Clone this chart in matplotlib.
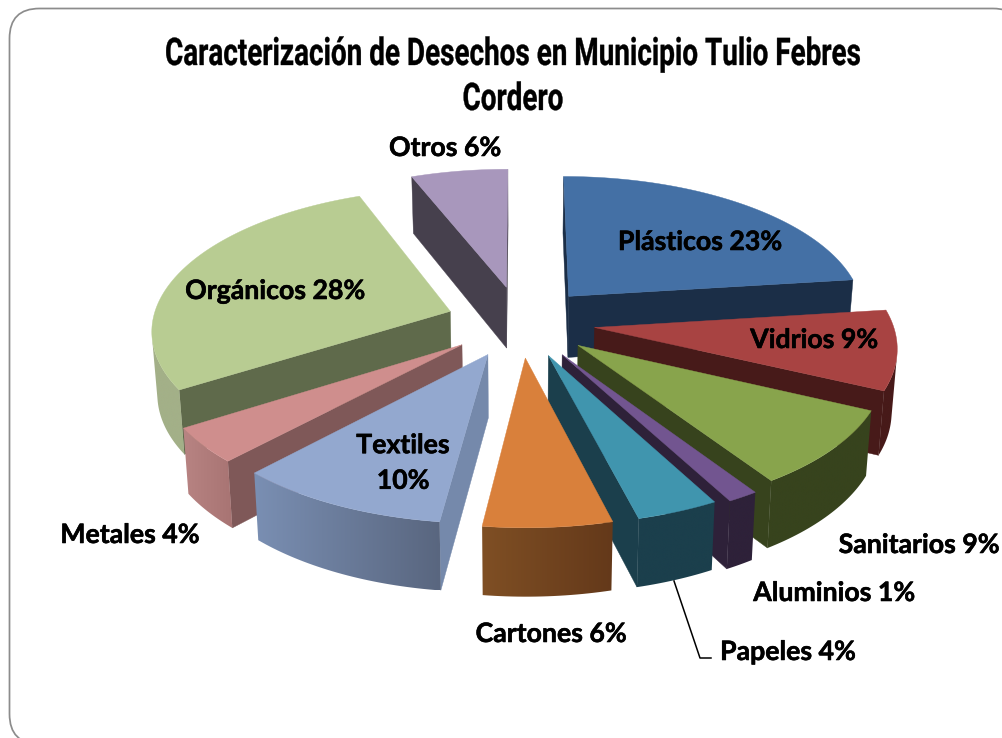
import numpy as np
import matplotlib
matplotlib.use("Agg")
import matplotlib.pyplot as plt
from matplotlib.colors import to_rgb
from matplotlib.patches import Polygon, FancyBboxPatch
from matplotlib.patheffects import AbstractPathEffect, withStroke
from matplotlib.transforms import Affine2D

# ---- data ----
categories = ["Plásticos", "Vidrios", "Sanitarios", "Aluminios", "Papeles",
              "Cartones", "Textiles", "Metales", "Orgánicos", "Otros"]
values = [23, 9, 8.7, 1.45, 3.85, 6, 10, 4, 28, 6]
label_texts = ["Plásticos 23%", "Vidrios 9%", "Sanitarios 9%", "Aluminios 1%", "Papeles 4%",
               "Cartones 6%", "Textiles\n10%", "Metales 4%", "Orgánicos 28%", "Otros 6%"]
title_lines = ["Caracterización de Desechos en Municipio Tulio Febres", "Cordero"]

# ---- styles ----
top_colors = ["#4470A5", "#A84342", "#88A44C", "#725590", "#4095AE",
              "#D9803B", "#93A8CF", "#CF8E8D", "#B8CC92", "#A897BC"]
wall_colors = ["#1B2E47", "#471A19", "#37431D", "#2E2139", "#1B3F4C",
               "#7F4F24", "#7589AB", "#7F5858", "#5F6A4B", "#46404D"]
rim_left = ["#1B2E47", "#471A19", "#37431D", "#2E2139", "#1B3F4C",
            "#7F4F24", "#7A8FB3", "#B88483", "#A3B088", "#46404D"]
rim_right = ["#1B2E47", "#471A19", "#37431D", "#2E2139", "#1B3F4C",
             "#64391A", "#59667F", "#A87473", "#A3B088", "#46404D"]
explode = [0.25, 0.25, 0.25, 0.265, 0.25, 0.25, 0.25, 0.25, 0.25, 0.26]
label_pos = [(700, 242), (814, 340), (919, 545), (834, 593), (788, 652),
             (551, 634), (403, 463), (130, 535), (275, 291), (445, 148)]

CX, CY, RX, RY, K, DEPTH = 520.5, 322, 298, 140, 0.12, 62
W, H = 1003, 738

fig = plt.figure(figsize=(W / 100, H / 100), dpi=100, facecolor="white")
ax = fig.add_axes([0, 0, 1, 1])
ax.set_xlim(0, W)
ax.set_ylim(H, 0)
ax.axis("off")

R = 30
left, topy, right, boty = 9.5, 8.5, 1023, 744
ax.add_patch(FancyBboxPatch((left + R, topy + R), right - left - 2 * R, boty - topy - 2 * R,
                            boxstyle=f"round,pad={R},rounding_size={R}",
                            fc="white", ec="#8C8C8C", lw=1.25, zorder=0))


def project(u, v, bottom=False):
    w = 1 / (1 + K * v)
    x = CX + RX * u * w
    y = CY - RY * v * w
    if bottom:
        x = CX + (x - CX) * 0.985
        y = y + DEPTH / (1 + 0.08 * v)
    return np.array([x, y])


def area(p):
    p = np.asarray(p)
    x, y = p[:, 0], p[:, 1]
    return 0.5 * np.sum(x * np.roll(y, -1) - np.roll(x, -1) * y)


fracs = np.array(values, dtype=float) / sum(values)
edges = np.concatenate([[0], np.cumsum(fracs)]) * 2 * np.pi
mids = (edges[:-1] + edges[1:]) / 2
order = np.argsort(-np.cos(mids))

z = 1.0
for i in order:
    a0, a1, m = edges[i], edges[i + 1], mids[i]
    ou, ov = explode[i] * np.sin(m), explode[i] * np.cos(m)
    n = max(6, int(np.degrees(a1 - a0) / 1.0) + 2)
    th = np.linspace(a0, a1, n)
    pu = np.concatenate([[ou], ou + np.sin(th)])
    pv = np.concatenate([[ov], ov + np.cos(th)])
    top = np.array([project(a, b) for a, b in zip(pu, pv)])
    bot = np.array([project(a, b, True) for a, b in zip(pu, pv)])
    s = np.sign(area(top))
    cnt = len(top)

    # radial cut walls
    for j, k in ((0, 1), (cnt - 1, 0)):
        quad = [top[j], top[k], bot[k], bot[j]]
        if np.sign(area(quad)) != s:
            ax.add_patch(Polygon(quad, closed=True, fc=wall_colors[i], ec=wall_colors[i],
                                 lw=0.3, zorder=z))
            z += 0.01

    # outer rim: one polygon per slice, shaded left to right
    vis = [j for j in range(1, cnt - 1)
           if np.sign(area([top[j], top[j + 1], bot[j + 1], bot[j]])) != s]
    if vis:
        idx = list(range(vis[0], vis[-1] + 2))
        rim = np.vstack([top[idx], bot[idx][::-1]])
        x0, x1 = rim[:, 0].min(), rim[:, 0].max()
        y0, y1 = rim[:, 1].min(), rim[:, 1].max()
        c0, c1 = np.array(to_rgb(rim_left[i])), np.array(to_rgb(rim_right[i]))
        grad = np.linspace(0, 1, 256)[None, :, None] * (c1 - c0)[None, None, :] + c0[None, None, :]
        clip = Polygon(rim, closed=True, transform=ax.transData, fc="none", ec="none")
        ax.add_patch(clip)
        im = ax.imshow(grad, extent=(x0, x1, y1, y0), aspect="auto", zorder=z,
                       interpolation="bilinear")
        im.set_clip_path(clip)
        z += 0.01

    ax.add_patch(Polygon(top, closed=True, fc=top_colors[i], ec=top_colors[i], lw=0.3, zorder=z))
    z += 0.01

ax.set_xlim(0, W)
ax.set_ylim(H, 0)

# ---- labels ----
for txt, (x, y) in zip(label_texts, label_pos):
    t = ax.text(x, y, txt, ha="center", va="center", fontsize=19.2, linespacing=1.58,
                family="Lato", weight="bold", color="black", zorder=50)
    t.set_path_effects([withStroke(linewidth=0.4, foreground="black")])

ax.plot([674, 700, 711], [581, 658, 658], color="black", lw=1.1, solid_joinstyle="round", zorder=40)


# ---- title: condensed heavy look, built on a real text object ----
class Condense(AbstractPathEffect):
    def __init__(self, sx, sy, x0, y0, stroke):
        super().__init__()
        self.t = (Affine2D().translate(-x0, -y0).scale(sx, sy).translate(x0, y0))
        self.stroke = stroke

    def draw_path(self, renderer, gc, tpath, affine, rgbFace=None):
        g = renderer.new_gc()
        g.copy_properties(gc)
        g.set_linewidth(self.stroke)
        g.set_foreground("black")
        renderer.draw_path(g, tpath, affine + self.t, rgbFace)
        g.restore()


TITLE_FS = 22.5
TITLE_SY = 1.22
rend = fig.canvas.get_renderer()
probe = ax.text(513, 65, title_lines[0], fontsize=TITLE_FS, family="Roboto", weight="bold",
                ha="center", va="baseline")
sx = 696 / probe.get_window_extent(rend).width
probe.remove()
for line, base in zip(title_lines, (65, 110)):
    t = ax.text(513, base, line, fontsize=TITLE_FS, family="Roboto", weight="bold",
                ha="center", va="baseline", color="black", zorder=50)
    t.set_path_effects([Condense(sx, TITLE_SY, 513, H - base, 0.25)])

fig.savefig("out.png", dpi=100, facecolor="white")
